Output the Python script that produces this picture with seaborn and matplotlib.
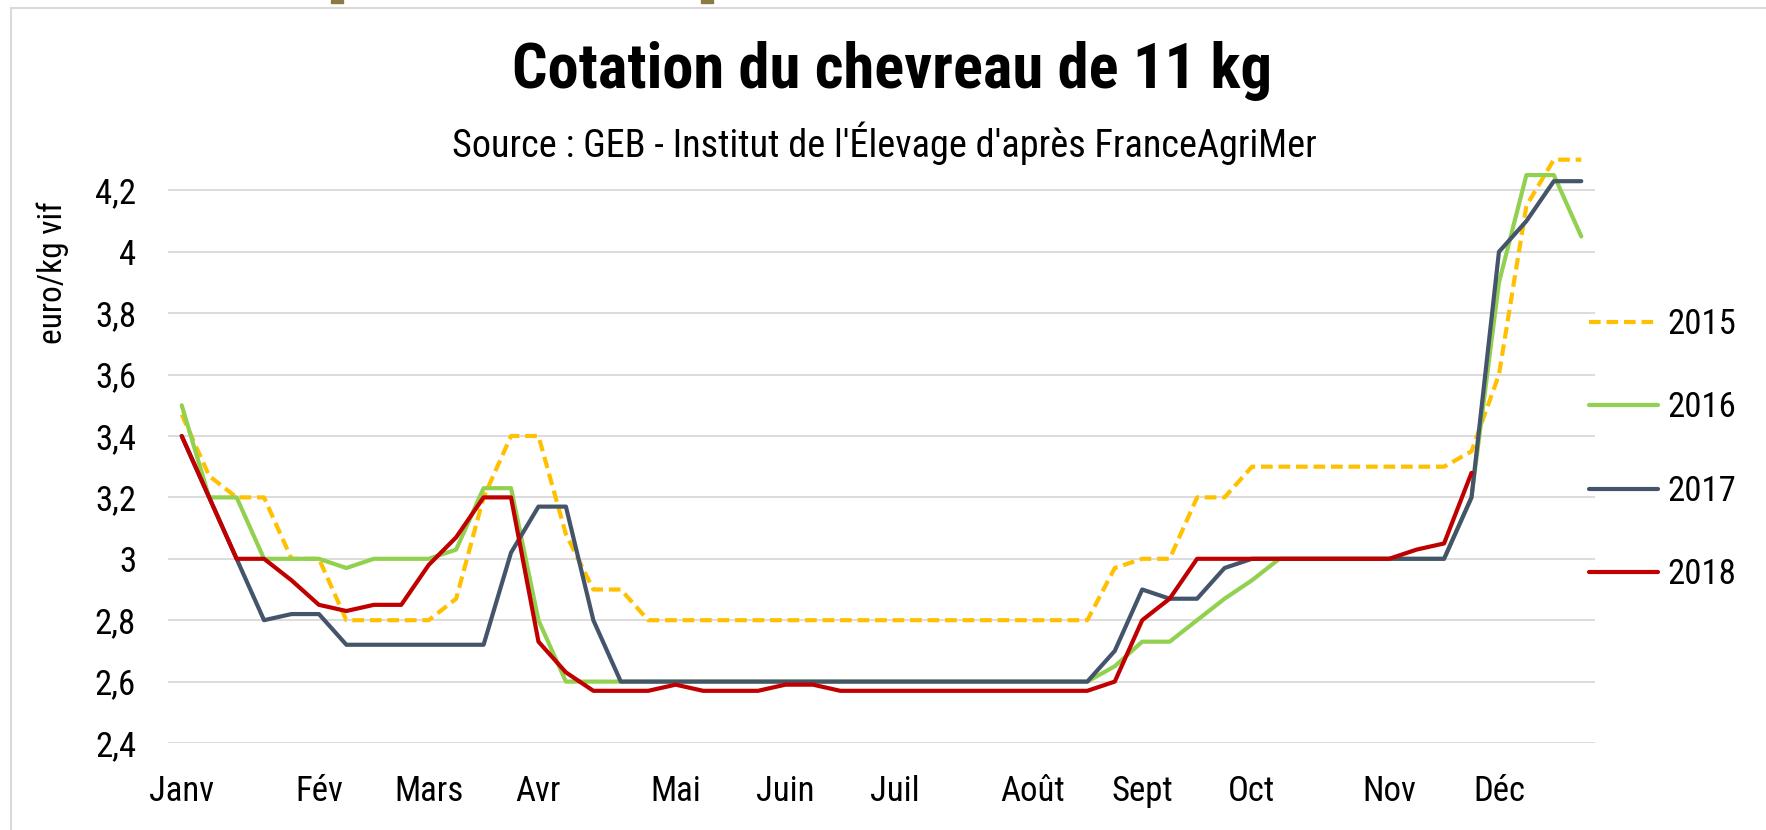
import matplotlib
matplotlib.use("Agg")
import matplotlib.pyplot as plt
import numpy as np
import seaborn as sns
from matplotlib.lines import Line2D
from matplotlib.patches import Rectangle

# weekly quotations, euro/kg live weight (weeks 1..52)
weeks = list(range(1, 53))

y2015 = [3.47, 3.27, 3.2, 3.2, 3.0, 3.0, 2.8, 2.8, 2.8, 2.8,
         2.87, 3.2, 3.4, 3.4, 3.08, 2.9, 2.9,
         2.8, 2.8, 2.8, 2.8, 2.8, 2.8, 2.8, 2.8, 2.8, 2.8,
         2.8, 2.8, 2.8, 2.8, 2.8, 2.8, 2.8,
         2.97, 3.0, 3.0, 3.2, 3.2,
         3.3, 3.3, 3.3, 3.3, 3.3, 3.3, 3.3, 3.3,
         3.35, 3.6, 4.15, 4.3, 4.3]

y2016 = [3.5, 3.2, 3.2, 3.0, 3.0, 3.0, 2.97, 3.0, 3.0, 3.0,
         3.03, 3.23, 3.23, 2.8,
         2.6, 2.6, 2.6, 2.6, 2.6, 2.6, 2.6, 2.6, 2.6, 2.6,
         2.6, 2.6, 2.6, 2.6, 2.6, 2.6, 2.6, 2.6, 2.6, 2.6,
         2.65, 2.73, 2.73, 2.8, 2.87, 2.93,
         3.0, 3.0, 3.0, 3.0, 3.0, 3.0, 3.0,
         3.2, 3.9, 4.25, 4.25, 4.05]

y2017 = [3.4, 3.2, 3.0, 2.8, 2.82, 2.82,
         2.72, 2.72, 2.72, 2.72, 2.72, 2.72,
         3.02, 3.17, 3.17, 2.8,
         2.6, 2.6, 2.6, 2.6, 2.6, 2.6, 2.6, 2.6, 2.6,
         2.6, 2.6, 2.6, 2.6, 2.6, 2.6, 2.6, 2.6, 2.6,
         2.7, 2.9, 2.87, 2.87, 2.97,
         3.0, 3.0, 3.0, 3.0, 3.0, 3.0, 3.0, 3.0,
         3.2, 4.0, 4.1, 4.23, 4.23]

y2018 = [3.4, 3.2, 3.0, 3.0, 2.93, 2.85, 2.83, 2.85, 2.85, 2.98,
         3.07, 3.2, 3.2, 2.73, 2.63, 2.57, 2.57, 2.57, 2.59, 2.57,
         2.57, 2.57, 2.59, 2.59,
         2.57, 2.57, 2.57, 2.57, 2.57, 2.57, 2.57, 2.57, 2.57, 2.57,
         2.6, 2.8, 2.87,
         3.0, 3.0, 3.0, 3.0, 3.0, 3.0, 3.0, 3.0,
         3.03, 3.05, 3.28, np.nan, np.nan, np.nan, np.nan]

series_names = ["2015", "2016", "2017", "2018"]
series_values = [y2015, y2016, y2017, y2018]

month_weeks = [1, 6, 10, 14, 19, 23, 27, 32, 36, 40, 45, 49]
month_labels = ["Janv", "Fév", "Mars", "Avr", "Mai", "Juin", "Juil",
                "Août", "Sept", "Oct", "Nov", "Déc"]

y_ticks = [2.4, 2.6, 2.8, 3.0, 3.2, 3.4, 3.6, 3.8, 4.0, 4.2]
y_tick_labels = ["2,4", "2,6", "2,8", "3", "3,2", "3,4", "3,6", "3,8", "4", "4,2"]

COLOR_MAP = {
    "2015": "#FFC000",
    "2016": "#92D050",
    "2017": "#44546A",
    "2018": "#C00000",
}

sns.set_theme(style="white")
plt.rcParams["font.family"] = ["Roboto Condensed", "Liberation Sans", "DejaVu Sans"]

W, H = 1766, 830
fig = plt.figure(figsize=(W / 100, H / 100), dpi=100)
ax = fig.add_axes([168 / W, 1 - 743 / H, (1595 - 168) / W, (743 - 129) / H])

for name, vals in zip(series_names, series_values):
    ls = (0, (2.8, 1.4)) if name == "2015" else "-"
    sns.lineplot(
        x=weeks,
        y=vals,
        ax=ax,
        color=COLOR_MAP[name],
        linewidth=3.0,
        linestyle=ls,
        label=name,
        clip_on=False,
        zorder=3,
    )

ax.set_xlim(0.5, 52.5)
ax.set_ylim(2.4, 4.4)
ax.set_yticks(y_ticks)
ax.set_yticklabels(y_tick_labels)
ax.set_xticks(month_weeks)
ax.set_xticklabels(month_labels)
ax.tick_params(axis="y", length=0, pad=23, labelsize=25, colors="black")
ax.tick_params(axis="x", length=0, pad=23, labelsize=25, colors="black")
ax.grid(axis="y", color="#D9D9D9", linewidth=1.3)
ax.grid(axis="x", visible=False)
ax.set_axisbelow(True)
for spine in ax.spines.values():
    spine.set_visible(False)
ax.set_xlabel("")
ax.set_ylabel("")

leg = ax.legend(
    loc="center left",
    bbox_to_anchor=(1589 / W, 1 - 449.5 / H),
    bbox_transform=fig.transFigure,
    frameon=False,
    fontsize=25,
    handlelength=2.0,
    handletextpad=0.25,
    labelspacing=1.45,
    borderpad=0,
    borderaxespad=0,
)
for t in leg.get_texts():
    t.set_color("black")

fig.text(892 / W, 1 - 71 / H, "Cotation du chevreau de 11 kg",
         ha="center", va="center", fontsize=45, fontweight="bold", color="black")
fig.text(884 / W, 1 - 143 / H,
         "Source : GEB - Institut de l'Élevage d'après FranceAgriMer",
         ha="center", va="center", fontsize=27.5, color="black")
fig.text(53 / W, 1 - 273 / H, "euro/kg vif", rotation=90,
         ha="center", va="center", fontsize=24, color="black")

# frame of the slide and the small marks above it
fig.add_artist(Line2D([11 / W, 11 / W], [0, 1 - 8 / H], color="#D9D9D9",
                      linewidth=1.5, transform=fig.transFigure))
fig.add_artist(Line2D([11 / W, 1], [1 - 8 / H, 1 - 8 / H], color="#D9D9D9",
                      linewidth=1.5, transform=fig.transFigure))
for mx in (331, 701):
    fig.add_artist(Rectangle((mx / W, 1 - 3 / H), 12 / W, 3 / H,
                             color="#8C7A45", transform=fig.transFigure))

fig.savefig("out.png", dpi=100)
